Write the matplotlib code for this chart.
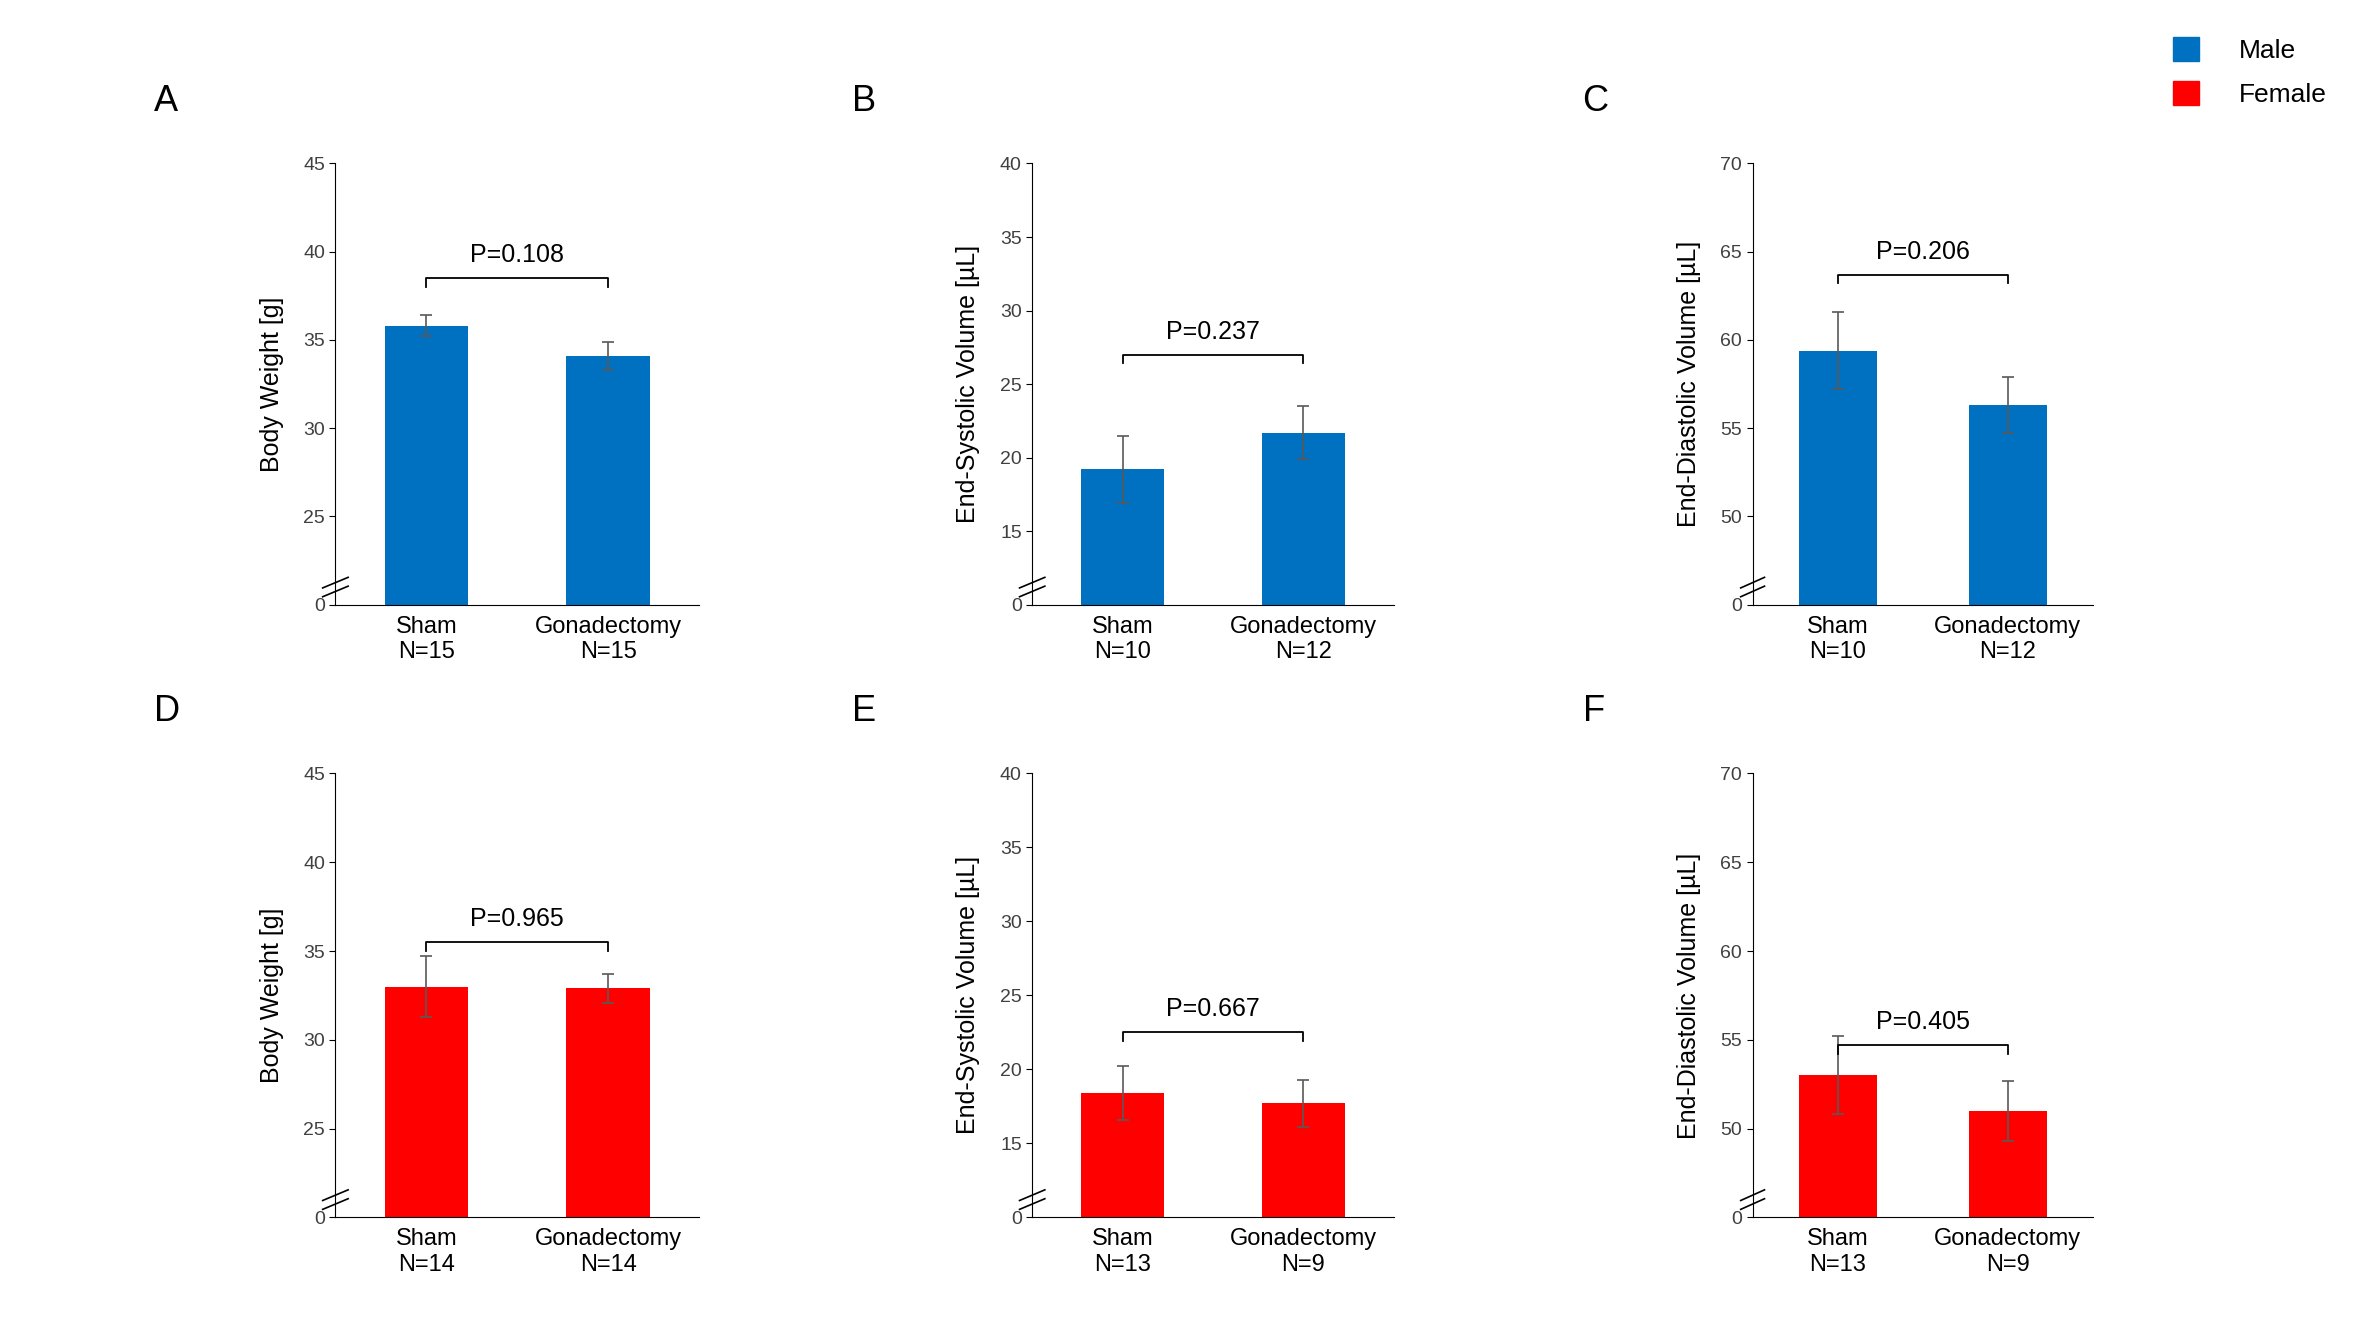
import matplotlib.pyplot as plt
from matplotlib.patches import Patch

plt.rcParams['font.family'] = ['Liberation Sans', 'DejaVu Sans']

letters = ["A", "B", "C", "D", "E", "F"]
ylabels = ["Body Weight [g]", "End-Systolic Volume [µL]", "End-Diastolic Volume [µL]"] * 2
means = [[35.8, 34.1], [19.2, 21.7], [59.4, 56.3],
         [33.0, 32.9], [18.4, 17.7], [53.0, 51.0]]
errs = [[0.6, 0.8], [2.3, 1.8], [2.2, 1.6],
        [1.7, 0.8], [1.8, 1.6], [2.2, 1.7]]
pvals = ["P=0.108", "P=0.237", "P=0.206", "P=0.965", "P=0.667", "P=0.405"]
p_level = [38.5, 27.0, 63.7, 35.5, 22.5, 54.7]
ns = [[15, 15], [10, 12], [10, 12], [14, 14], [13, 9], [13, 9]]
ticks = [[25, 30, 35, 40, 45], [15, 20, 25, 30, 35, 40], [50, 55, 60, 65, 70]] * 2
colors = ["#0070C0"] * 3 + ["#FF0000"] * 3

fig = plt.figure(figsize=(23.62, 13.29), dpi=100)
lefts = [0.142, 0.437, 0.742]
widths = [0.154, 0.153, 0.144]
bottoms = [0.545, 0.084]
heights = [0.332, 0.334]

for i in range(6):
    r, c = divmod(i, 3)
    ax = fig.add_axes([lefts[c], bottoms[r], widths[c], heights[r]])
    t = ticks[i]
    base = t[0] - 5
    ax.bar([0.25, 0.75], [m - base for m in means[i]], bottom=base, width=0.23,
           color=colors[i], yerr=errs[i], error_kw=dict(ecolor="#595959", elinewidth=1.2, capsize=4, capthick=1.2))
    # error bars only upward
    ax.set_xlim(0, 1)
    ax.set_ylim(base, t[-1])
    ax.set_yticks([base] + t)
    ax.set_yticklabels(["0"] + [str(v) for v in t], fontsize=14, color="#404040")
    ax.set_xticks([0.25, 0.75])
    ax.set_xticklabels([f"Sham\nN={ns[i][0]}", f"Gonadectomy\nN={ns[i][1]}"], fontsize=17)
    ax.tick_params(axis="x", length=0, pad=8)
    ax.tick_params(axis="y", length=4, color="black")
    for s in ["top", "right"]:
        ax.spines[s].set_visible(False)
    ax.set_ylabel(ylabels[i], fontsize=18, labelpad=14)
    # axis break marks
    span = t[-1] - base
    for dy in (0.03, 0.05):
        ax.plot([-0.035, 0.035], [base + (dy - 0.012) * span, base + (dy + 0.012) * span],
                color="black", lw=1.2, transform=ax.get_yaxis_transform(), clip_on=False)
    # significance bracket
    h = p_level[i]
    d = 0.02 * span
    ax.plot([0.25, 0.25, 0.75, 0.75], [h - d, h, h, h - d], color="black", lw=1.3)
    ax.text(0.5, h + 0.025 * span, pvals[i], ha="center", va="bottom", fontsize=18)
    ax.text(-0.5, 1.1, letters[i], transform=ax.transAxes, fontsize=26, ha="left", va="bottom")

fig.legend(handles=[Patch(color="#0070C0", label="Male"), Patch(color="#FF0000", label="Female")],
           loc="upper right", bbox_to_anchor=(0.995, 0.99), frameon=False, fontsize=19,
           handlelength=1.0, handleheight=1.0, handletextpad=1.5, labelspacing=0.7)

fig.savefig("out.png", dpi=100)
